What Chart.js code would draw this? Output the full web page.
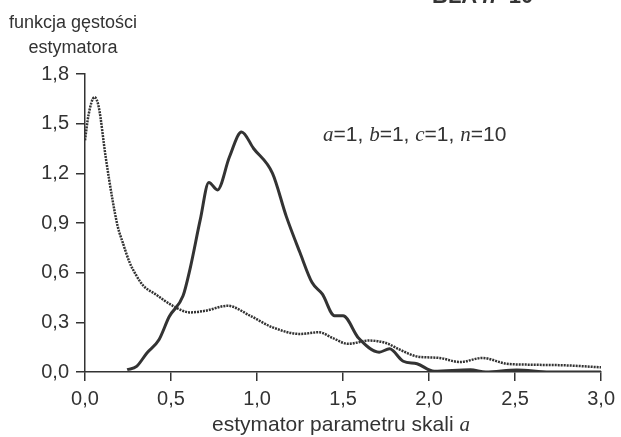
<!DOCTYPE html>
<html>
<head>
<meta charset="utf-8">
<script src="https://cdn.jsdelivr.net/npm/chart.js@4"></script>
<style>
  body { margin: 0; background: #fff; }
  #wrap { position: relative; width: 621px; height: 437px; overflow: hidden; font-family: "Liberation Sans", Arial, sans-serif; color: #333; }
  #wrap canvas { position: absolute; left: 0; top: 0; }
  .txt { position: absolute; white-space: nowrap; }
  .it { font-family: "Liberation Serif", "Times New Roman", serif; font-style: italic; }
</style>
</head>
<body>
<div id="wrap">
  <canvas id="densityChart" width="621" height="437"></canvas>
  <div class="txt" style="left:432px; top:-15px; font-size:22px; line-height:22px; font-weight:bold;">BLA <span style="font-style:italic">n</span>=10</div>
  <div class="txt" style="left:0; width:146px; top:10px; font-size:18px; line-height:25px; text-align:center;">funkcja gęstości<br>estymatora</div>
  <div class="txt" style="left:323px; top:123px; font-size:21px; line-height:21px;"><span class="it">a</span>=1, <span class="it">b</span>=1, <span class="it">c</span>=1, <span class="it">n</span>=10</div>
  <div class="txt" style="left:141px; width:400px; top:413px; font-size:21px; line-height:21px; text-align:center;">estymator parametru skali <span class="it">a</span></div>
</div>
<script>
// estimator values (x) and density readings for the two curves
const dottedX = [0.0, 0.02, 0.055, 0.08, 0.12, 0.16, 0.19, 0.22, 0.26, 0.30, 0.34, 0.41, 0.51, 0.61, 0.70, 0.83, 0.96, 1.09, 1.25, 1.36, 1.44, 1.53, 1.65, 1.75, 1.83, 1.93, 2.06, 2.18, 2.31, 2.45, 2.60, 2.80, 3.00];
const dottedY = [1.40, 1.55, 1.66, 1.60, 1.30, 1.04, 0.88, 0.78, 0.66, 0.58, 0.52, 0.47, 0.40, 0.36, 0.37, 0.40, 0.34, 0.27, 0.23, 0.24, 0.205, 0.17, 0.19, 0.175, 0.135, 0.094, 0.085, 0.06, 0.085, 0.05, 0.044, 0.04, 0.028];

const solidX = [0.245, 0.30, 0.36, 0.43, 0.49, 0.57, 0.61, 0.67, 0.72, 0.77, 0.84, 0.91, 0.98, 1.09, 1.17, 1.25, 1.32, 1.38, 1.45, 1.50, 1.59, 1.71, 1.77, 1.85, 1.93, 2.03, 2.24, 2.33, 2.51, 2.70, 3.00];
const solidY = [0.014, 0.034, 0.115, 0.195, 0.335, 0.46, 0.62, 0.92, 1.145, 1.10, 1.30, 1.45, 1.35, 1.20, 0.94, 0.72, 0.54, 0.47, 0.34, 0.34, 0.205, 0.12, 0.14, 0.065, 0.05, 0.004, 0.014, 0.0, 0.012, 0.0, 0.0];

const xTicks = [0, 0.5, 1.0, 1.5, 2.0, 2.5, 3.0];
const yTicks = [0, 0.3, 0.6, 0.9, 1.2, 1.5, 1.8];

const ink = '#333333';
const fmt = v => v.toFixed(1).replace('.', ',');
const toPoints = (xs, ys) => xs.map((x, i) => ({ x: x, y: ys[i] }));

new Chart(document.getElementById('densityChart'), {
    type: 'line',
    data: {
        datasets: [{
            data: toPoints(dottedX, dottedY),
            borderColor: ink,
            borderWidth: 2.5,
            borderDash: [2, 1],
            pointRadius: 0,
            cubicInterpolationMode: 'monotone'
        }, {
            data: toPoints(solidX, solidY),
            borderColor: ink,
            borderWidth: 3,
            pointRadius: 0,
            cubicInterpolationMode: 'monotone'
        }]
    },
    options: {
        responsive: false,
        animation: false,
        layout: { padding: { left: 0, top: 74, right: 19, bottom: 0 } },
        plugins: { legend: { display: false }, tooltip: { enabled: false } },
        scales: {
            x: {
                type: 'linear',
                min: 0, max: 3,
                afterBuildTicks: s => { s.ticks = xTicks.map(v => ({ value: v })); },
                afterFit: s => { s.height = 65; },
                ticks: { callback: fmt, color: ink, padding: 6, font: { family: 'Liberation Sans', size: 20 } },
                grid: { drawOnChartArea: false, tickLength: 9, color: ink, lineWidth: 1.5 },
                border: { color: ink, width: 1.5 }
            },
            y: {
                min: 0, max: 1.8,
                afterBuildTicks: s => { s.ticks = yTicks.map(v => ({ value: v })); },
                afterFit: s => { s.width = 85; },
                ticks: { callback: fmt, color: ink, padding: 7, font: { family: 'Liberation Sans', size: 20 } },
                grid: { drawOnChartArea: false, tickLength: 9, color: ink, lineWidth: 1.5 },
                border: { color: ink, width: 1.5 }
            }
        }
    }
});
</script>
</body>
</html>
